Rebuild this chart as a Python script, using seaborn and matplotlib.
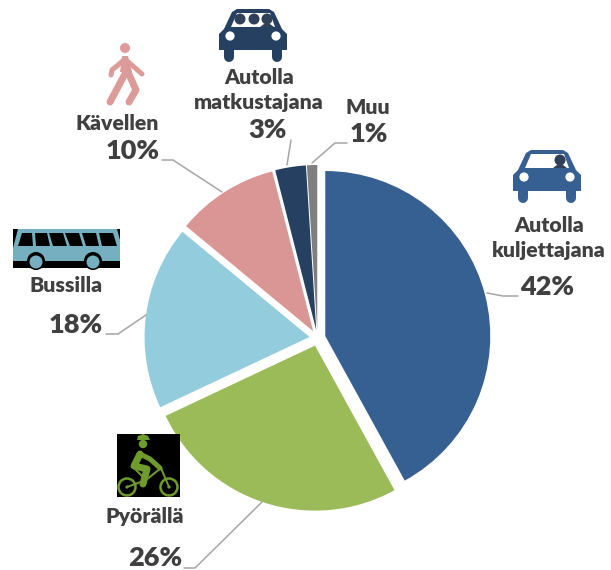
import seaborn as sns
from matplotlib import pyplot as plt
from matplotlib.patches import Circle, Polygon, Rectangle

categories = ['Autolla\nkuljettajana', 'Pyörällä', 'Bussilla', 'Kävellen', 'Autolla\nmatkustajana', 'Muu']
shares = [42, 26, 18, 10, 3, 1]
colors = ['#376092', '#9bbb59', '#93cddd', '#d99694', '#254061', '#7f7f7f']

# label layout, pixels from the top left of the picture
label_pos = [(549, 238), (145, 517), (66, 285), (117, 123), (259, 90), (368, 107)]
pct_pos = [(547, 287), (155, 558), (76, 325), (133, 151), (268, 130), (369, 134)]
leaders = [
    [(487, 293), (503, 296), (518, 296)],
    [(184, 568), (195, 568), (262, 502)],
    [(106, 334), (118, 334), (146, 315)],
    [(162, 160), (173, 160), (222, 192)],
    [(291, 140), (287, 165)],
    [(347, 143), (335, 143), (312, 163)],
]

W, H = 611, 570
TEXT = '#404040'

sns.set_theme(style="white")
plt.rcParams['font.family'] = ['Lato', 'DejaVu Sans']

fig = plt.figure(figsize=(W / 100, H / 100), dpi=100)
ax = fig.add_axes([0, 0, 1, 1])


def px(x, y):
    return x, H - y


def poly(points, color, z=5):
    ax.add_patch(Polygon([px(*p) for p in points], closed=True, fc=color, ec='none', zorder=z))


def stroke(points, color, width, z=5):
    xs, ys = zip(*[px(*p) for p in points])
    ax.plot(xs, ys, color=color, lw=width * 0.72, solid_capstyle='round', solid_joinstyle='round', zorder=z)


def dot(x, y, r, color, z=6):
    ax.add_patch(Circle(px(x, y), r, fc=color, ec='none', zorder=z))


def car(x0, y0, color, heads):
    def p(x, y):
        return (x0 + x, y0 + y)
    poly([p(18, 0), p(50, 0), p(55, 3), p(63, 20), p(68, 25), p(68, 41), p(0, 41), p(0, 25), p(5, 20), p(13, 3)], color)
    poly([p(18, 4), p(51, 4), p(56, 18), p(12, 18)], 'white', 6)
    for hx in heads:
        dot(x0 + hx, y0 + 10, 5.5, '#2f4058', 7)
    poly([p(heads[-1] - 7, 18), p(heads[-1] - 3, 15), p(heads[-1] + 3, 15), p(heads[-1] + 7, 18)], '#2f4058', 7)
    dot(x0 + 11, y0 + 27, 4.6, 'white')
    dot(x0 + 57, y0 + 27, 4.6, 'white')
    for wx in (10, 58):
        stroke([p(wx, 40), p(wx, 48)], color, 10)


def walker():
    c = '#dc9a98'
    dot(125, 48, 5, c)
    poly([(122, 56), (128, 56), (132, 72), (120, 72)], c)
    stroke([(124, 60), (112, 70), (111, 75)], c, 5)
    stroke([(126, 60), (142, 74)], c, 5)
    stroke([(126, 72), (110, 102)], c, 7)
    stroke([(128, 72), (136, 90), (129, 102)], c, 7)


def bus():
    c = '#76b0c0'
    ax.add_patch(Rectangle(px(13, 268), 107, 39, fc='black', ec='none', zorder=5))
    poly([(18, 229), (117, 229), (120, 240), (120, 261), (13, 261), (13, 248)], c, 6)
    win = [(18, 246, 22, 233, 32, 233, 33, 246), (36, 246, 35, 233, 47, 233, 50, 246),
           (53, 246, 49, 233, 63, 233, 67, 246), (70, 246, 65, 233, 79, 233, 83, 246),
           (86, 246, 82, 233, 96, 233, 99, 246), (102, 246, 99, 233, 113, 233, 117, 246)]
    for w in win:
        poly(list(zip(w[0::2], w[1::2])), 'black', 7)
    for wx in (36, 93):
        dot(wx, 261, 9, 'black', 7)
        dot(wx, 262, 6.5, c, 8)


def bike():
    c = '#6f9a2c'
    ax.add_patch(Rectangle(px(117, 497), 63, 63, fc='black', ec='none', zorder=5))
    for wx in (127, 169):
        ax.add_patch(Circle(px(wx, 487), 8.5, fc='none', ec=c, lw=1.8, zorder=6))
        dot(wx, 487, 1.6, c)
    stroke([(127, 487), (146, 480), (161, 468), (169, 487)], c, 2)
    stroke([(133, 467), (146, 480)], c, 2)
    dot(143, 444, 4.2, c)
    poly([(137, 440), (138, 436), (143, 434), (148, 436), (150, 440)], c, 7)
    stroke([(140, 454), (134, 466), (147, 469), (143, 484)], c, 7)
    stroke([(140, 454), (150, 459), (160, 468)], c, 5)


# explode is in the same units as the radius here
wedges, _ = ax.pie(shares, colors=colors, startangle=90, counterclock=False,
                   explode=[8] * len(shares), radius=165, center=px(317.5, 338),
                   frame=True, wedgeprops={'linewidth': 0})

for cat, lp, share, pp in zip(categories, label_pos, shares, pct_pos):
    ax.text(*px(*lp), cat, ha='center', va='center', fontsize=15.3, fontweight='heavy',
            color=TEXT, linespacing=1.42, zorder=10)
    ax.text(*px(*pp), f'{share}%', ha='center', va='center', fontsize=19.5, fontweight='heavy',
            color=TEXT, zorder=10)

for line in leaders:
    xs, ys = zip(*[px(*p) for p in line])
    ax.plot(xs, ys, color='#a6a6a6', lw=1.1, zorder=1)

car(513, 150, '#376092', [47])
car(219, 9, '#254061', [21, 35, 48])
walker()
bus()
bike()

ax.set_xlim(0, W)
ax.set_ylim(0, H)
ax.set_aspect('equal')
ax.axis('off')

fig.savefig('out.png', dpi=100)
